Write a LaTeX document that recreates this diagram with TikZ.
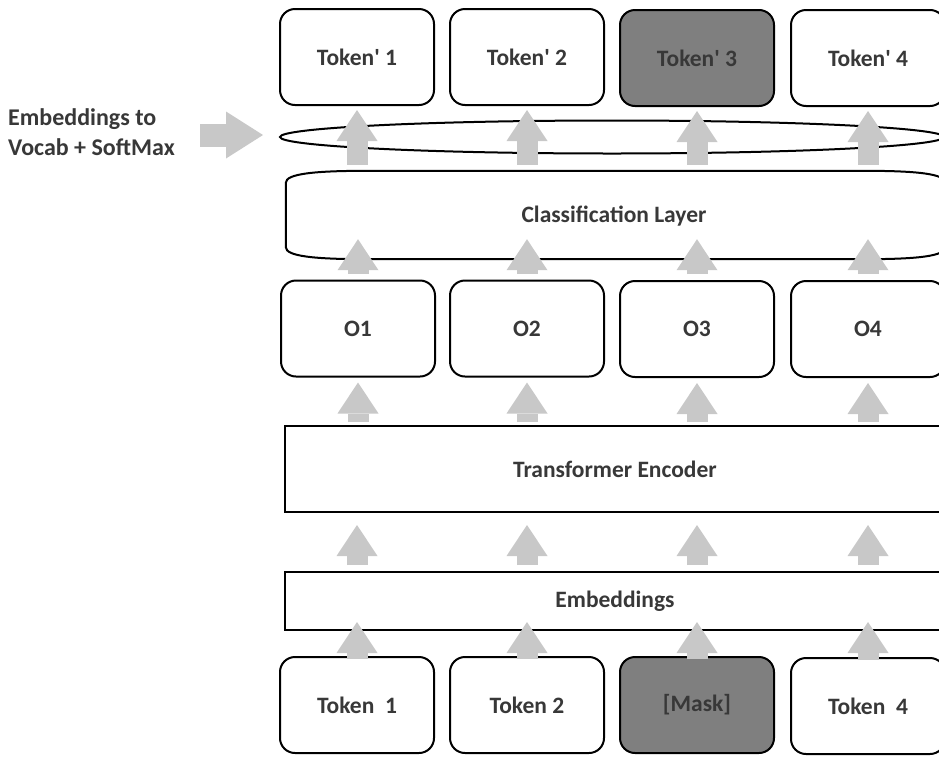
\documentclass[tikz,border=0pt]{standalone}
\usepackage{fontspec}
\setmainfont{Carlito}
\usetikzlibrary{arrows.meta,calc,shapes.geometric}
\definecolor{txtgray}{HTML}{383838}
\definecolor{arrgray}{HTML}{C8C8C8}
\definecolor{darkfill}{HTML}{7F7F7F}
\tikzset{
  lbl/.style={text=txtgray, font=\fontsize{23.5}{29}\selectfont\bfseries},
  tokbox/.style={draw=black, line width=2pt, rounded corners=15pt, fill=white,
    minimum width=154pt, minimum height=96pt, inner sep=0pt, lbl},
  darkbox/.style={tokbox, fill=darkfill},
  layerbox/.style={draw=black, line width=2pt, fill=white, inner sep=0pt, lbl},
  blk/.style={draw=arrgray, line width=21pt,
    -{Triangle[width=41pt,length=31pt,line width=0pt]}},
  blkh/.style={draw=arrgray, line width=23pt,
    -{Triangle[width=47pt,length=37pt,line width=0pt]}},
}
\begin{document}
\begin{tikzpicture}[x=1pt,y=1pt]
\useasboundingbox (0,0) rectangle (939,-756);
\clip (0,0) rectangle (939,-756);
\fill[white] (0,0) rectangle (939,-756);

% top output tokens
\node[tokbox]  (tp1) at (357,-57) {Token\textquotesingle{} 1};
\node[tokbox]  (tp2) at (527,-57) {Token\textquotesingle{} 2};
\node[darkbox] (tp3) at (697,-58) {Token\textquotesingle{} 3};
\node[tokbox]  (tp4) at (868,-58) {Token\textquotesingle{} 4};

% softmax ellipse
\node[ellipse, draw=black, line width=2pt, minimum width=664pt, minimum height=33pt, inner sep=0pt] (ell) at (612,-137) {};

% classification layer
\node[minimum width=659pt, minimum height=88pt, inner sep=0pt] (cls) at (615.5,-215) {};
\draw[line width=2pt]
  ([yshift=-12pt]cls.north west)
    .. controls ([yshift=-3pt]cls.north west) and ([xshift=28pt]cls.north west) .. ([xshift=82pt]cls.north west)
  -- ([xshift=-82pt]cls.north east)
    .. controls ([xshift=-28pt]cls.north east) and ([yshift=-3pt]cls.north east) .. ([yshift=-12pt]cls.north east)
  -- ([yshift=12pt]cls.south east)
    .. controls ([yshift=3pt]cls.south east) and ([xshift=-28pt]cls.south east) .. ([xshift=-82pt]cls.south east)
  -- ([xshift=82pt]cls.south west)
    .. controls ([xshift=28pt]cls.south west) and ([yshift=3pt]cls.south west) .. ([yshift=12pt]cls.south west)
  -- cycle;
\node[lbl] (clsl) at (614,-216) {Classification Layer};

% outputs
\node[tokbox] (o1) at (358,-328.5) {O1};
\node[tokbox] (o2) at (527,-328.5) {O2};
\node[tokbox] (o3) at (697,-329) {O3};
\node[tokbox] (o4) at (868,-329) {O4};

% transformer encoder
\node[layerbox, minimum width=660pt, minimum height=86pt] (te) at (615,-469) {Transformer Encoder};

% embeddings
\node[layerbox, minimum width=660pt, minimum height=58pt] (emb) at (615,-601) {Embeddings};

% input tokens
\node[tokbox]  (t1) at (357,-705) {Token~ 1};
\node[tokbox]  (t2) at (527,-705) {Token 2};
\node[darkbox] (t3) at (697,-705) {[Mask]};
\node[tokbox]  (t4) at (868,-706) {Token~ 4};

% left label
\node[lbl, font=\fontsize{24}{30}\selectfont\bfseries, anchor=north west, align=left, inner sep=0pt] (voc) at (8,-108) {Embeddings to\\Vocab + SoftMax};

% arrows
\draw[blkh] ($(ell.west)+(-79,2)$) -- ($(ell.west)+(-16,2)$);

\foreach \a/\b in {t1/emb,t2/emb,t3/emb,t4/emb}{
  \draw[blk] ($(\a.north)+(0,-3)$) -- ($(\a.north |- \b.south)+(0,9)$);
}
\foreach \a/\b in {t1/te,t2/te,t3/te,t4/te}{
  \draw[blk] ($(\a.north |- emb.north)+(0,6)$) -- ($(\a.north |- \b.south)+(0,-12)$);
}
\foreach \a/\b in {o1/te,o2/te,o3/te,o4/te}{
  \draw[blk] ($(\a.south |- \b.north)+(0,3)$) -- ($(\a.south)+(0,-5)$);
}
\foreach \a in {o1,o2,o3,o4}{
  \draw[blk] ($(\a.north)+(0,6)$) -- ($(\a.north |- cls.south)+(0,20)$);
}
\foreach \a in {tp1,tp2,tp3,tp4}{
  \draw[blk] ($(\a.south |- cls.north)+(0,6)$) -- ($(\a.south)+(0,-4)$);
}
\end{tikzpicture}
\end{document}
